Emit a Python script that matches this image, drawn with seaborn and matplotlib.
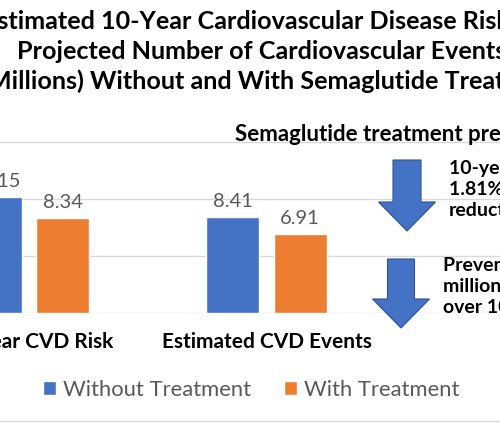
import pandas as pd
import numpy as np
import matplotlib
matplotlib.use("Agg")
import matplotlib.pyplot as plt
import seaborn as sns
from matplotlib.patches import FancyArrow
from matplotlib.lines import Line2D

# Data
categories = ["10-Year CVD Risk", "Estimated CVD Events"]
without_treatment = [10.15, 8.41]
with_treatment = [8.34, 6.91]
series_names = ["Without Treatment", "With Treatment"]

title_lines = [
    "Estimated 10-Year Cardiovascular Disease Risk and",
    "Projected Number of Cardiovascular Events",
    "(Millions) Without and With Semaglutide Treatment",
]
note_top = "Semaglutide treatment predicted to reduce"
note_risk = "10-year risk\n1.81% absolute\nreduction"
note_events = "Prevents 1.50\nmillion events\nover 10 years"

df = pd.DataFrame({
    "Measure": categories * 2,
    "Value": without_treatment + with_treatment,
    "Scenario": [series_names[0]] * 2 + [series_names[1]] * 2,
})

sns.set_style("white")
plt.rcParams["font.family"] = ["Lato", "DejaVu Sans"]

W, H = 500, 426
fig = plt.figure(figsize=(W / 100, H / 100), dpi=100)

def fx(px):
    return px / W

def fy(py):
    return (H - py) / H

# plot area extends past the picture edges (the reference is a crop)
ymax = 15.5
ax = fig.add_axes([0, fy(313), 1, (fy(142) - fy(313)) * ymax / 15])

blue = "#4472C4"
orange = "#ED7D31"
sns.barplot(data=df, x="Measure", y="Value", hue="Scenario",
            palette=[blue, orange], width=0.565, gap=0.209,
            saturation=1, ax=ax)

ax.set_xlim(-0.122, 1.983)
ax.set_ylim(0, ymax)
ax.set_yticks([0, 5, 10, 15])
ax.set_yticklabels([])
ax.yaxis.grid(True, color="#D9D9D9", linewidth=1)
ax.set_axisbelow(True)
sns.despine(ax=ax, left=True, bottom=True)
ax.set_xlabel("")
ax.set_ylabel("")
ax.tick_params(axis="both", length=0)
ax.tick_params(axis="x", pad=14)
ax.set_xticks(range(len(categories)))
ax.set_xticklabels(categories, fontsize=15, fontweight="bold", color="black")

for cont in ax.containers:
    labels = ax.bar_label(cont, fmt="%.2f", padding=5, fontsize=14.5,
                          color="#595959")
    for lab in labels:
        lab.set_annotation_clip(False)

sns.move_legend(ax, loc="center", bbox_to_anchor=(fx(251), fy(390)),
                bbox_transform=fig.transFigure, ncol=2, frameon=False,
                title=None, fontsize=15.8, handlelength=0.6, handleheight=0.6,
                handletextpad=0.3, columnspacing=1.5)
for t in ax.get_legend().get_texts():
    t.set_color("#595959")

# title
title_x = [270, 262, 272]
for i, line in enumerate(title_lines):
    fig.text(fx(title_x[i]), fy(29 + 30 * i), line, ha="center", va="baseline",
             fontsize=18.1, fontweight="bold", color="black")

# annotations on the right
fig.text(fx(235), fy(141), note_top, ha="left", va="baseline",
         fontsize=16, fontweight="bold", color="black")
fig.text(fx(449), fy(160), note_risk, ha="left", va="top",
         fontsize=14, fontweight="bold", color="black", linespacing=1.3)
fig.text(fx(443), fy(257), note_events, ha="left", va="top",
         fontsize=14, fontweight="bold", color="black", linespacing=1.3)

def down_arrow(cx, top, tip, shaft_w, head_w, head_l):
    arr = FancyArrow(fx(cx), fy(top), 0, fy(tip) - fy(top),
                     width=shaft_w / W, head_width=head_w / W,
                     head_length=head_l / H, length_includes_head=True,
                     transform=fig.transFigure, facecolor=blue,
                     edgecolor="#2F528F", linewidth=0.8)
    fig.patches.append(arr)

down_arrow(407, 160, 231, 28, 57, 29)
down_arrow(401, 259, 328, 27, 57, 29)

fig.add_artist(Line2D([0, 1], [fy(421), fy(421)], color="#D9D9D9",
                      linewidth=1, transform=fig.transFigure))

fig.savefig("out.png", dpi=100)
